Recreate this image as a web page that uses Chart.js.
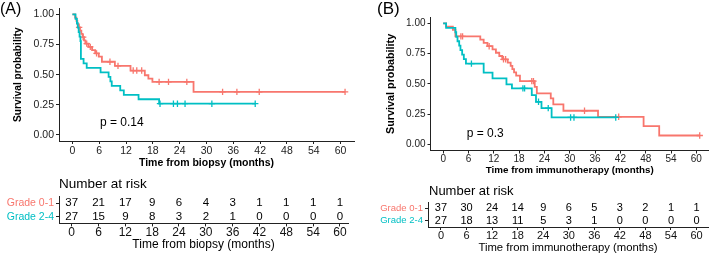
<!DOCTYPE html>
<html><head><meta charset="utf-8">
<script src="https://cdn.jsdelivr.net/npm/chart.js@4/dist/chart.umd.min.js"></script>
<style>
html,body{margin:0;padding:0;background:#fff;width:709px;height:255px;overflow:hidden;position:relative;}
canvas{position:absolute;}
</style></head><body>
<canvas id="kmA" width="360" height="172" style="left:0;top:0"></canvas>
<canvas id="riskA" width="360" height="83" style="left:0;top:172px"></canvas>
<canvas id="kmB" width="349" height="178" style="left:360px;top:0"></canvas>
<canvas id="riskB" width="349" height="77" style="left:360px;top:178px"></canvas>
<script>
// ---------- data ----------
const groups = ['Grade 0-1', 'Grade 2-4'];
const timeTicks = [0, 6, 12, 18, 24, 30, 36, 42, 48, 54, 60];
const survTicks = [0, 0.25, 0.5, 0.75, 1];
const survTickLabels = ['0.00', '0.25', '0.50', '0.75', '1.00'];

// Panel A (time from biopsy)
const aG01Time = [0, 0.6, 0.9, 1.1, 1.4, 1.7, 2.0, 2.3, 2.6, 2.9, 3.6, 4.4, 5.1, 5.9, 6.6, 9.5, 13.0, 16.2, 17.0, 17.9, 27.1];
const aG01Surv = [1, 0.973, 0.946, 0.919, 0.892, 0.865, 0.838, 0.811, 0.784, 0.757, 0.730, 0.703, 0.676, 0.649, 0.607, 0.573, 0.534, 0.495, 0.467, 0.440, 0.357];
const aG01End = 61.0;
const aG01Censor = [1.5, 2.4, 3.2, 4.0, 5.4, 8.4, 10.2, 13.6, 14.4, 15.5, 19.4, 21.5, 25.6, 33.6, 36.8, 41.8, 61.0];

const aG24Time = [0, 0.7, 1.0, 1.2, 1.4, 1.6, 1.8, 1.9, 2.5, 3.2, 6.3, 8.1, 8.5, 8.8, 10.7, 11.5, 14.8, 19.4];
const aG24Surv = [1, 0.963, 0.926, 0.889, 0.852, 0.815, 0.778, 0.630, 0.593, 0.556, 0.519, 0.481, 0.444, 0.407, 0.370, 0.333, 0.296, 0.259];
const aG24End = 40.9;
const aG24Censor = [19.6, 22.6, 23.5, 25.2, 31.2, 40.9];

const aRiskG01 = [37, 21, 17, 9, 6, 4, 3, 1, 1, 1, 1];
const aRiskG24 = [27, 15, 9, 8, 3, 2, 1, 0, 0, 0, 0];

// Panel B (time from immunotherapy)
const bG01Time = [0, 0.7, 2.3, 2.9, 8.8, 9.6, 10.5, 11.7, 12.5, 13.3, 14.0, 15.3, 16.0, 16.4, 16.8, 17.3, 18.2, 21.7, 22.2, 25.5, 26.1, 28.5, 36.7, 47.5, 51.2];
const bG01Surv = [1, 0.973, 0.946, 0.892, 0.865, 0.838, 0.811, 0.784, 0.757, 0.730, 0.703, 0.676, 0.649, 0.622, 0.595, 0.568, 0.523, 0.476, 0.421, 0.380, 0.330, 0.278, 0.228, 0.151, 0.074];
const bG01End = 60.8;
const bG01Censor = [4.2, 4.6, 10.9, 14.3, 14.8, 21.0, 21.4, 33.5, 41.6, 60.8];

const bG24Time = [0, 0.7, 2.9, 3.1, 3.4, 3.8, 4.1, 4.5, 4.9, 5.4, 9.6, 11.7, 15.0, 16.3, 21.0, 22.0, 23.3, 25.7];
const bG24Surv = [1, 0.963, 0.926, 0.889, 0.852, 0.815, 0.778, 0.741, 0.704, 0.667, 0.593, 0.545, 0.496, 0.463, 0.407, 0.352, 0.300, 0.223];
const bG24End = 40.9;
const bG24Censor = [6.7, 18.9, 19.3, 22.6, 24.9, 30.2, 31.0, 40.9];

const bRiskG01 = [37, 30, 24, 14, 9, 6, 5, 3, 2, 1, 1];
const bRiskG24 = [27, 18, 13, 11, 5, 3, 1, 0, 0, 0, 0];

// ---------- style ----------
const FAM = "'Liberation Sans', Arial, Helvetica, sans-serif";
const RED = '#F8766D', CYAN = '#00BFC4';
const groupColors = [RED, CYAN];
const AXIS = '#222';
Chart.defaults.font.family = FAM;

function survAt(times, surv, t) {
  let s = surv[0];
  for (let i = 0; i < times.length; i++) if (times[i] <= t) s = surv[i];
  return s;
}

const textPlugin = {
  id: 'texts',
  afterDraw(chart, args, opts) {
    const ctx = chart.ctx;
    (opts.items || []).forEach(it => {
      ctx.save();
      ctx.font = it.font;
      ctx.fillStyle = it.color || '#000';
      ctx.textAlign = it.align || 'left';
      ctx.textBaseline = it.baseline || 'middle';
      const x = it.fromLeft !== undefined ? chart.chartArea.left + it.fromLeft : it.x;
      ctx.fillText(it.text, x, it.y);
      ctx.restore();
    });
  }
};

const riskPlugin = {
  id: 'riskNumbers',
  afterDatasetsDraw(chart, args, opts) {
    const ctx = chart.ctx;
    ctx.save();
    ctx.font = opts.font;
    ctx.fillStyle = '#000';
    ctx.textAlign = 'center';
    ctx.textBaseline = 'middle';
    chart.data.datasets.forEach((ds, i) => {
      const meta = chart.getDatasetMeta(i);
      meta.data.forEach((el, j) => ctx.fillText(String(ds.data[j].n), el.x, el.y));
    });
    ctx.restore();
  }
};

function kmChart(id, cfg) {
  const datasets = [];
  cfg.series.forEach(s => {
    const pts = s.time.map((t, i) => ({ x: t, y: s.surv[i] }));
    pts.push({ x: s.end, y: s.surv[s.surv.length - 1] });
    datasets.push({ data: pts, borderColor: s.color, borderWidth: 1.8, stepped: true, pointRadius: 0, fill: false, order: s.order });
    datasets.push({ data: s.censor.map(t => ({ x: t, y: survAt(s.time, s.surv, t) })), showLine: false,
      borderColor: s.color, backgroundColor: s.color, pointStyle: 'cross', pointRadius: 3.2, pointBorderWidth: 1.3, order: s.order });
  });
  new Chart(document.getElementById(id), {
    type: 'line',
    data: { datasets },
    options: {
      responsive: false, animation: false, events: [],
      layout: { autoPadding: false, padding: { left: 0, right: cfg.padRight, top: cfg.padTop, bottom: 0 } },
      plugins: { legend: { display: false }, tooltip: { enabled: false }, texts: { items: cfg.texts } },
      scales: {
        x: {
          type: 'linear', min: -3, max: 63,
          afterBuildTicks: s => { s.ticks = timeTicks.map(v => ({ value: v })); },
          afterFit: s => { s.height = cfg.xH; },
          grid: { display: true, drawOnChartArea: false, drawTicks: true, tickLength: 3, color: AXIS, lineWidth: 1 },
          border: { display: true, color: AXIS, width: 1 },
          ticks: { color: '#222', font: { size: cfg.tickSize }, padding: cfg.xTickPad, maxRotation: 0, autoSkip: false },
          title: { display: true, text: cfg.xTitle, color: '#000', font: { size: cfg.xTitleSize, weight: 'bold' }, padding: { top: 0, bottom: cfg.xTitlePad } }
        },
        y: {
          type: 'linear', min: -0.05, max: 1.05,
          afterBuildTicks: s => { s.ticks = survTicks.map(v => ({ value: v })); },
          afterFit: s => { s.width = cfg.yW; },
          grid: { display: true, drawOnChartArea: false, drawTicks: true, tickLength: 3, color: AXIS, lineWidth: 1 },
          border: { display: true, color: AXIS, width: 1 },
          ticks: { color: '#222', font: { size: cfg.tickSize }, padding: 2, autoSkip: false, callback: (v, i) => survTickLabels[i] },
          title: { display: true, text: 'Survival probability', color: '#000', font: { size: cfg.yTitleSize, weight: 'bold' }, padding: { top: cfg.yTitlePad, bottom: 0 } }
        }
      }
    },
    plugins: [textPlugin]
  });
}

function riskChart(id, cfg) {
  const datasets = cfg.rows.map((row, r) => ({
    data: timeTicks.map((t, i) => ({ x: t, y: groups[r], n: row[i] })),
    pointRadius: 0
  }));
  new Chart(document.getElementById(id), {
    type: 'scatter',
    data: { datasets },
    options: {
      responsive: false, animation: false, events: [],
      layout: { autoPadding: false, padding: { left: 0, right: cfg.padRight, top: cfg.padTop, bottom: 0 } },
      plugins: { legend: { display: false }, tooltip: { enabled: false },
        riskNumbers: { font: cfg.numSize + 'px ' + FAM }, texts: { items: cfg.texts } },
      scales: {
        x: {
          type: 'linear', min: cfg.xMin, max: cfg.xMax,
          afterBuildTicks: s => { s.ticks = timeTicks.map(v => ({ value: v })); },
          afterFit: s => { s.height = cfg.xH; },
          grid: { display: true, drawOnChartArea: false, drawTicks: true, tickLength: 3, color: AXIS, lineWidth: 1 },
          border: { display: true, color: AXIS, width: 1 },
          ticks: { color: '#111', font: { size: cfg.tickSize, lineHeight: 1 }, padding: 0, maxRotation: 0, autoSkip: false },
          title: { display: true, text: cfg.xTitle, color: '#000', font: { size: cfg.xTitleSize }, padding: { top: 0, bottom: cfg.xTitlePad } }
        },
        y: {
          type: 'category', labels: groups, offset: true,
          afterFit: s => { s.width = cfg.yW; },
          grid: { display: true, drawOnChartArea: false, drawTicks: true, tickLength: 3, color: AXIS, lineWidth: 1 },
          border: { display: true, color: AXIS, width: 1 },
          ticks: { color: c => groupColors[c.index], font: { size: cfg.labelSize, lineHeight: 1 }, padding: 2, autoSkip: false }
        }
      }
    },
    plugins: [textPlugin, riskPlugin]
  });
}

kmChart('kmA', {
  series: [
    { time: aG24Time, surv: aG24Surv, end: aG24End, censor: aG24Censor, color: CYAN, order: 0 },
    { time: aG01Time, surv: aG01Surv, end: aG01End, censor: aG01Censor, color: RED, order: 1 }
  ],
  padRight: 6, padTop: 0.6, xH: 31, yW: 59, tickSize: 10.5, xTickPad: 1,
  xTitle: 'Time from biopsy (months)', xTitleSize: 10.5, xTitlePad: 2.7,
  yTitleSize: 10.2, yTitlePad: 12,
  texts: [
    { text: '(A)', x: 0, y: 9.5, font: '16px ' + FAM },
    { text: 'p = 0.14', x: 100, y: 123, font: '12px ' + FAM }
  ]
});

kmChart('kmB', {
  series: [
    { time: bG24Time, surv: bG24Surv, end: bG24End, censor: bG24Censor, color: CYAN, order: 0 },
    { time: bG01Time, surv: bG01Surv, end: bG01End, censor: bG01Censor, color: RED, order: 1 }
  ],
  padRight: 0, padTop: 17.25, xH: 27.5, yW: 70.5, tickSize: 10, xTickPad: 0,
  xTitle: 'Time from immunotherapy (months)', xTitleSize: 9.8, xTitlePad: 2.1,
  yTitleSize: 10.8, yTitlePad: 25,
  texts: [
    { text: '(B)', x: 17, y: 9, font: '17px ' + FAM },
    { text: 'p = 0.3', x: 106.7, y: 133.3, font: '12px ' + FAM }
  ]
});

riskChart('riskA', {
  rows: [aRiskG01, aRiskG24],
  xMin: -2.84, xMax: 61.8, padRight: 12, padTop: 24.6, xH: 31.6, yW: 59,
  tickSize: 12, numSize: 11.5, labelSize: 10.5, xTitle: 'Time from biopsy (months)', xTitleSize: 12, xTitlePad: 3,
  texts: [{ text: 'Number at risk', fromLeft: 0, y: 15.7, baseline: 'alphabetic', font: '13.5px ' + FAM }]
});

riskChart('riskB', {
  rows: [bRiskG01, bRiskG24],
  xMin: -3.05, xMax: 62.7, padRight: 1, padTop: 24, xH: 28, yW: 68,
  tickSize: 11, numSize: 11, labelSize: 9.5, xTitle: 'Time from immunotherapy (months)', xTitleSize: 11.3, xTitlePad: 0,
  texts: [{ text: 'Number at risk', fromLeft: 1, y: 17, baseline: 'alphabetic', font: '13px ' + FAM }]
});
</script>
</body></html>
